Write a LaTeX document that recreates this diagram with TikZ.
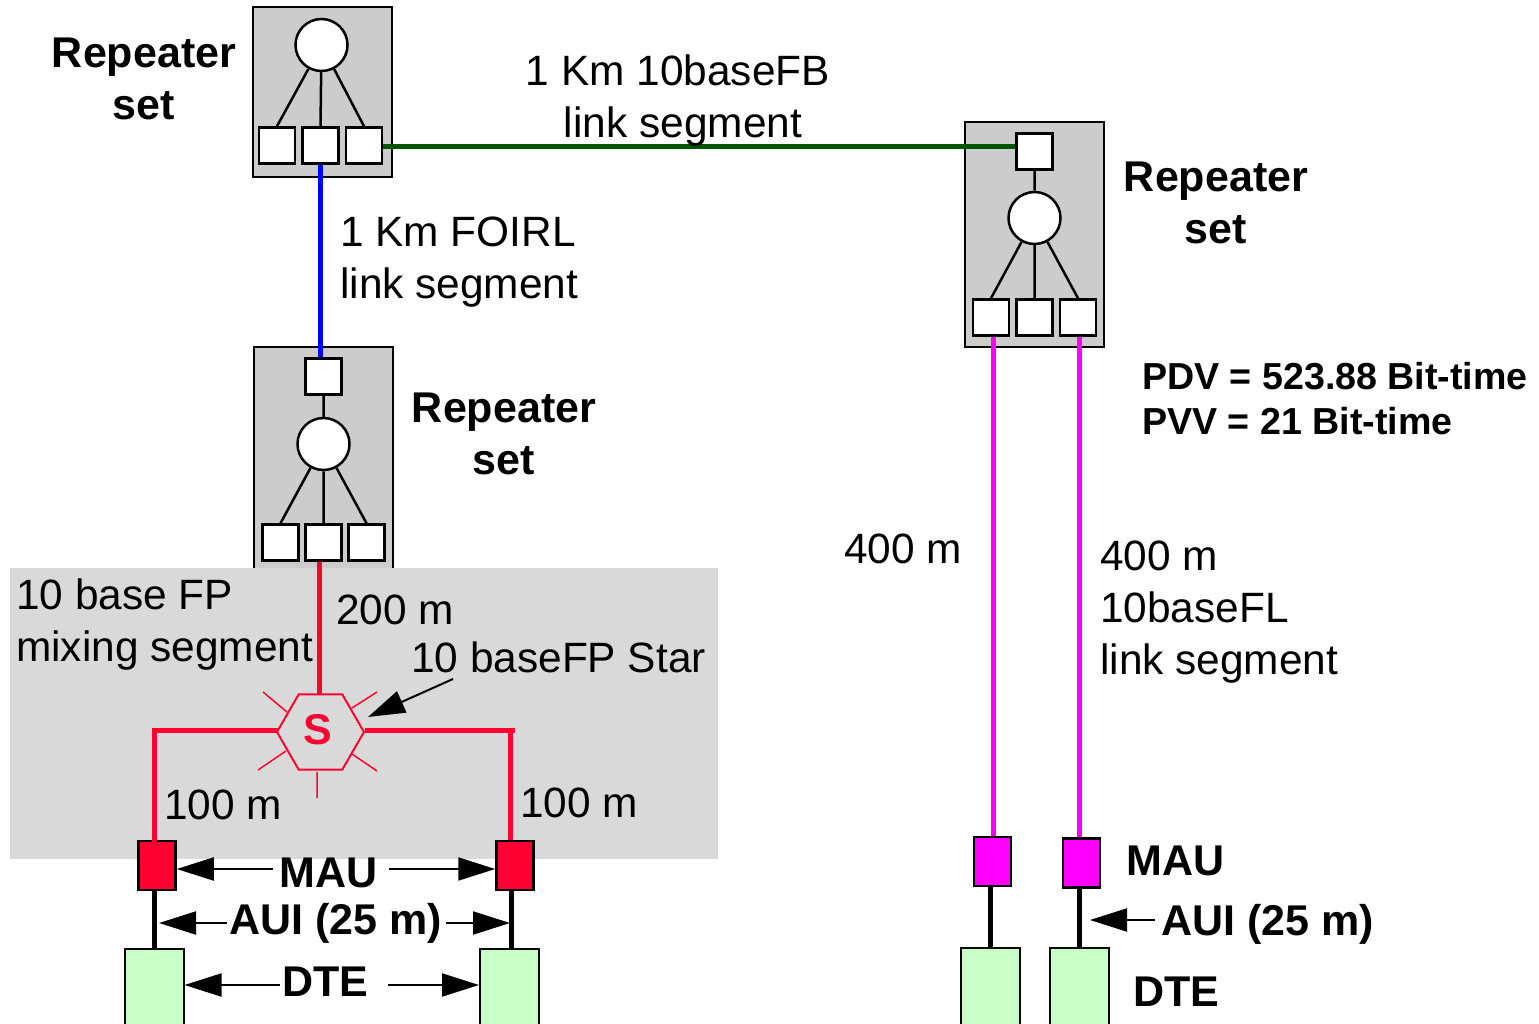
\documentclass[tikz,border=0pt]{standalone}
\usepackage{fontspec}
\setmainfont{Liberation Sans}
\usetikzlibrary{shapes.geometric,arrows.meta}
\definecolor{starred}{HTML}{FF0033}
\definecolor{linkpink}{HTML}{FF00FF}
\definecolor{fibregreen}{HTML}{005500}
\definecolor{fibreblue}{HTML}{0000FF}
\definecolor{rackgray}{HTML}{CCCCCC}
\definecolor{bandgray}{HTML}{D9D9D9}
\definecolor{dtegreen}{HTML}{C8FFC8}
\tikzset{
  rackbox/.style={draw,fill=rackgray,line width=2pt,minimum width=139pt,inner sep=0pt},
  hubnode/.style={circle,draw,fill=white,line width=2.5pt,minimum size=52pt,inner sep=0pt},
  portbox/.style={draw,fill=white,line width=2.5pt,minimum size=36pt,inner sep=0pt},
  maubox/.style={draw,line width=2.5pt,minimum width=37pt,minimum height=49pt,inner sep=0pt},
  dtebox/.style={draw,fill=dtegreen,line width=2pt,minimum width=59pt,minimum height=110pt,inner sep=0pt,anchor=north},
  txt/.style={font=\fontsize{42.4}{52}\selectfont,inner sep=0pt},
  btxt/.style={font=\fontsize{43}{52}\selectfont\bfseries,inner sep=0pt},
  tiny bold/.style={font=\fontsize{37.6}{45}\selectfont\bfseries,inner sep=0pt},
  wire/.style={line width=2.5pt},
  seg/.style={line width=5pt},
  dimarrow/.style={line width=2pt,-{Triangle[length=37pt,width=23pt]}},
}
\begin{document}
\begin{tikzpicture}[x=1pt,y=-1pt]
  \useasboundingbox (0,0) rectangle (1539,1024);
  % top repeater
  \node (rackA) at (322,92) [rackbox,minimum height=170pt] {};
  \node (hubA) at (321.5,45) [hubnode] {};
  \node (portAa) at (277,145.5) [portbox] {};
  \node (portAb) at (320.5,145.5) [portbox] {};
  \node (portAc) at (364,145.5) [portbox] {};
  \draw[wire] (hubA) -- (portAa.north) (hubA) -- (portAb.north) (hubA) -- (portAc.north);
  % lower repeater, its foot goes under the band
  \node (rackB) at (323.5,460) [rackbox,minimum height=226pt] {};
  \node (portBt) at (323.5,376.5) [portbox] {};
  \node (hubB) at (323.5,444) [hubnode] {};
  \node (portBa) at (280.5,542.5) [portbox] {};
  \node (portBb) at (323.5,542.5) [portbox] {};
  \node (portBc) at (366.5,542.5) [portbox] {};
  \draw[wire] (portBt) -- (hubB) (hubB) -- (portBa.north) (hubB) -- (portBb.north) (hubB) -- (portBc.north);
  % right repeater
  \node (rackC) at (1034.5,234.5) [rackbox,minimum height=225pt] {};
  \node (portCt) at (1034.5,151.5) [portbox] {};
  \node (hubC) at (1034.5,218) [hubnode] {};
  \node (portCa) at (991,317.5) [portbox] {};
  \node (portCb) at (1034.5,317.5) [portbox] {};
  \node (portCc) at (1078,317.5) [portbox] {};
  \draw[wire] (portCt) -- (hubC) (hubC) -- (portCa.north) (hubC) -- (portCb.north) (hubC) -- (portCc.north);
  % band
  \fill[bandgray] (10,568) rectangle (718,859);
  % star
  \node (star) at (320.5,732) [regular polygon,regular polygon sides=6,draw=starred,line width=2pt,minimum size=87pt,inner sep=0pt] {};
  \node (lblS) at (318,730) [btxt,text=starred] {S};
  \draw[starred,line width=1.5pt] (352,708) -- (377,692) (287,712) -- (263,692) (286,751) -- (258,770)
    (352,754) -- (377,771) (317,772) -- (317,798);
  \coordinate (cornerL) at (154,730);
  \coordinate (cornerR) at (510,730);
  \coordinate (cornerRe) at (515,730);
  \coordinate (starIn) at (319,695);
  % MAU and DTE
  \node (mauL) at (157,865.5) [maubox,fill=starred] {};
  \node (mauR) at (515,865.5) [maubox,fill=starred] {};
  \node (mauC) at (992.5,861.5) [maubox,fill=linkpink] {};
  \node (mauD) at (1081.5,863) [maubox,fill=linkpink] {};
  \node (dteL) at (154,948) [dtebox] {};
  \node (dteR) at (509.5,948) [dtebox] {};
  \node (dteC) at (990.5,947) [dtebox] {};
  \node (dteD) at (1079.5,947) [dtebox] {};
  % segments
  \draw[seg,fibregreen] ([yshift=-1.5pt]portAc.east) -- ([yshift=-1.5pt]portAc.east -| portCt.west);
  \draw[seg,fibreblue] (portAb.south) -- (portAb.south |- portBt.north);
  \draw[seg,starred] (portBb.south -| starIn) -- (starIn);
  \draw[seg,starred,line cap=rect] (star.west |- cornerL) -- (cornerL) -- (cornerL |- mauL.north);
  \draw[seg,starred] (star.east |- cornerL) -- (cornerRe) (cornerR) -- (cornerR |- mauR.north);
  \draw[seg,linkpink] (portCa.south -| 993,0) -- (mauC.north -| 993,0);
  \draw[seg,linkpink] (portCc.south -| 1079.5,0) -- (mauD.north -| 1079.5,0);
  \draw[seg,black] (mauL.south -| dteL.north) -- (dteL.north);
  \draw[seg,black] (mauR.south -| 511,0) -- (dteR.north -| 511,0);
  \draw[seg,black] (mauC.south -| dteC.north) -- (dteC.north);
  \draw[seg,black] (mauD.south -| dteD.north) -- (dteD.north);
  % labels
  \node (lblRepA) at (144,79) [btxt,align=center] {Repeater\\set};
  \node (lblRepC) at (1216,203) [btxt,align=center] {Repeater\\set};
  \node (lblRepB) at (504,434) [btxt,align=center] {Repeater\\set};
  \node (lblFB) at (678,101) [txt,align=center] {1 Km 10baseFB\\\hspace*{10pt}link segment};
  \node (lblFoirl) at (340,262) [txt,align=left,anchor=west] {1 Km FOIRL\\link segment};
  \node (lblFP) at (16,625) [txt,align=left,anchor=west] {10 base FP\\mixing segment};
  \node (lblTwo) at (336,624) [txt,anchor=base west] {200 m};
  \node (lblStar) at (411,672) [txt,anchor=base west] {10 baseFP Star};
  \node (lblHunL) at (164,819) [txt,anchor=base west] {100 m};
  \node (lblHunR) at (520,817) [txt,anchor=base west] {100 m};
  \node (lblFour) at (844,563) [txt,anchor=base west] {400 m};
  \node (lblFL) at (1100,612) [txt,align=left,anchor=west] {400 m\\10baseFL\\link segment};
  \node (lblPDV) at (1142,389) [tiny bold,anchor=base west] {PDV = 523.88 Bit-time};
  \node (lblPVV) at (1142,434) [tiny bold,anchor=base west] {PVV = 21 Bit-time};
  \node (lblMAUl) at (328.5,887) [btxt,anchor=base] {MAU};
  \node (lblAUIl) at (336,934) [btxt,anchor=base] {AUI (25 m)};
  \node (lblDTEl) at (325.5,996) [btxt,anchor=base] {DTE};
  \node (lblMAUr) at (1126,875) [btxt,anchor=base west] {MAU};
  \node (lblAUIr) at (1161,935) [btxt,anchor=base west] {AUI (25 m)};
  \node (lblDTEr) at (1133,1006) [btxt,anchor=base west] {DTE};
  % arrows
  \coordinate (starTail) at (453,679);
  \coordinate (starTip) at (368,717);
  \draw[dimarrow] (starTail) -- (starTip);
  \coordinate (mauTl) at (273,869);
  \coordinate (mauTr) at (389,869);
  \coordinate (auiTl) at (227,923);
  \coordinate (auiTr) at (446,923);
  \coordinate (dteTl) at (280,985);
  \coordinate (dteTr) at (388,985);
  \coordinate (auiTo) at (1155,920);
  \draw[dimarrow] (mauTl) -- (mauTl -| mauL.east);
  \draw[dimarrow] (mauTr) -- (mauTr -| mauR.west);
  \draw[dimarrow] (auiTl) -- (auiTl -| 159,0);
  \draw[dimarrow] (auiTr) -- (auiTr -| 510,0);
  \draw[dimarrow] (dteTl) -- (dteTl -| dteL.east);
  \draw[dimarrow] (dteTr) -- (dteTr -| dteR.west);
  \draw[dimarrow] (auiTo) -- (auiTo -| 1090,0);
\end{tikzpicture}
\end{document}
